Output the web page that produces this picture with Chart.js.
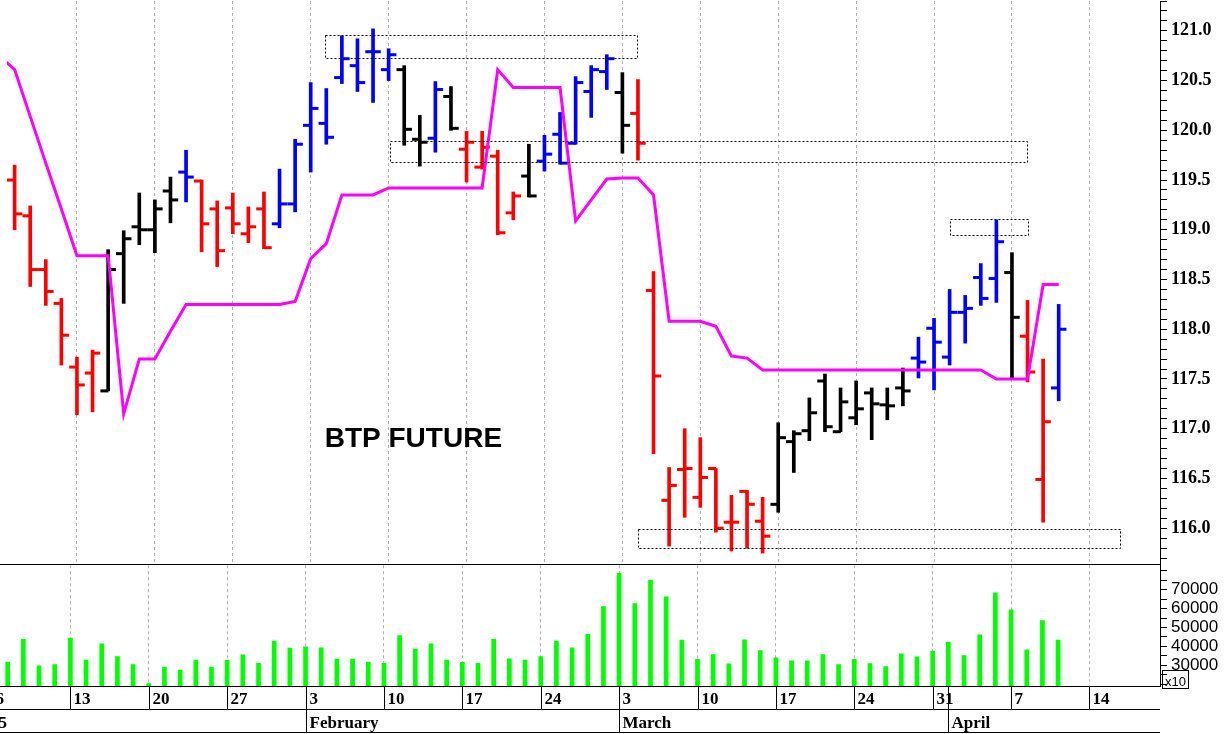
<!DOCTYPE html>
<html><head><meta charset="utf-8">
<script src="https://cdn.jsdelivr.net/npm/chart.js@4/dist/chart.umd.min.js"></script>
<style>
body{margin:0;background:#fff;width:1231px;height:734px;overflow:hidden;position:relative}
#wp{position:absolute;left:0;top:-6px;width:1231px;height:577px}
#wv{position:absolute;left:0;top:551px;width:1231px;height:182px}
</style></head><body>
<div id="wv"><canvas id="vol"></canvas></div>
<div id="wp"><canvas id="price"></canvas></div>
<script>
// trading days from Jan 6 (index 0) to Apr 10 (index 68)
var opens  = [119.79,119.50,119.14,118.60,118.26,117.62,117.56,117.38,118.76,119.03,119.00,119.39,119.58,119.49,119.21,119.22,118.96,119.21,119.06,119.26,
              120.05,120.07,120.53,120.65,120.79,120.61,120.61,119.91,119.92,120.34,119.81,119.63,119.74,119.17,119.54,119.69,119.96,119.87,120.39,120.59,
              120.38,120.17,118.39,116.28,116.59,116.31,116.60,116.06,116.37,116.07,116.24,116.87,116.98,117.48,116.97,117.11,117.36,117.24,117.41,117.71,
              118.01,117.72,118.17,118.52,118.51,118.57,117.93,116.49,117.41];
var highs  = [119.89,119.65,119.24,118.70,118.31,117.72,117.79,118.80,118.99,119.37,119.30,119.53,119.80,119.50,119.29,119.37,119.23,119.38,119.61,119.91,
              120.48,120.42,120.95,120.92,121.02,120.82,120.65,120.15,120.49,120.44,119.99,119.99,119.80,119.38,119.86,119.95,120.18,120.54,120.65,120.76,
              120.58,120.51,118.58,116.61,117.00,116.91,116.60,116.33,116.38,116.31,117.06,116.98,117.31,117.55,117.41,117.48,117.41,117.41,117.61,117.92,
              118.11,118.40,118.34,118.66,119.10,118.77,118.29,117.70,118.25];
var lows   = [119.29,119.00,118.43,118.24,117.64,117.14,117.17,117.38,118.26,118.85,118.77,119.07,119.28,118.78,118.63,118.96,118.87,118.81,119.02,119.18,
              119.58,119.86,120.47,120.39,120.28,120.50,119.85,119.64,119.78,120.00,119.48,119.61,118.95,119.10,119.33,119.59,119.66,119.86,120.13,120.41,
              119.77,119.70,116.75,115.82,116.11,116.21,115.96,115.77,115.80,115.75,116.16,116.56,116.88,116.97,116.97,117.04,116.89,117.09,117.23,117.51,
              117.39,117.64,117.86,118.24,118.27,117.50,117.47,116.06,117.28];
var closes = [119.61,119.16,118.60,118.38,117.94,117.44,117.76,118.60,118.91,119.00,119.21,119.30,119.53,119.06,118.79,119.06,119.03,118.82,119.26,119.86,
              120.22,119.93,120.72,120.48,120.79,120.76,120.01,119.88,120.41,120.02,119.88,119.83,118.97,119.34,119.34,119.76,119.67,120.48,120.61,120.72,
              120.05,119.87,117.53,116.43,116.60,116.51,116.00,116.06,116.24,115.92,116.91,116.95,117.16,117.02,117.27,117.20,117.25,117.23,117.38,117.67,
              117.87,118.17,118.21,118.31,118.88,118.12,117.57,117.07,118.00];
// bar colour code: r red, k black, b blue
var barColors = "rrrrrrrkkkkkbrrrrrbbbbbbbbkkbkrrrrkbbbbbkrrrrrrrrrkkkkkkkkkbbbbbbkrrb";
var stopLine = [120.75,120.61,120.14,119.67,119.21,118.74,118.74,118.74,117.15,117.70,117.70,117.98,118.25,118.25,118.25,118.25,118.25,118.25,118.25,118.28,
                118.71,118.86,119.35,119.35,119.35,119.42,119.42,119.42,119.42,119.42,119.42,119.42,120.61,120.43,120.43,120.43,120.43,119.09,119.30,119.51,
                119.52,119.52,119.35,118.08,118.08,118.08,118.03,117.73,117.71,117.59,117.59,117.59,117.59,117.59,117.59,117.59,117.59,117.59,117.59,117.59,
                117.59,117.59,117.59,117.59,117.50,117.50,117.50,118.45,118.45];
var volumes = [30000,31700,43700,29700,30400,44400,32700,41300,34600,30400,20300,29000,27400,32700,29000,32600,35500,31000,42800,39100,
               39700,39200,33200,33200,31700,31000,45700,38600,41300,32700,31500,31000,43700,33400,32700,34600,42800,39200,46400,61100,
               78700,62700,75000,66300,43300,33100,35600,30700,43500,37800,33900,32400,32400,35600,30400,33100,30900,29300,36000,34500,
               37500,42300,35100,46100,68300,59400,38200,53600,43300];
// dotted boxes: start day, end day, low, high
var boxStart = [20.9, 25.1, 61.0, 41.0];
var boxEnd   = [40.9, 66.0, 66.0, 71.9];
var boxLow   = [120.73, 119.68, 118.95, 115.80];
var boxHigh  = [120.96, 119.89, 119.11, 115.99];
// axis labels
var weekIdx    = [0,5,10,15,20,25,30,35,40,45,50,55,60,65,70];
var weekLabels = ["6","13","20","27","3","10","17","24","3","10","17","24","31","7","14"];
var monthIdx    = [-0.4,20,40,61];
var monthLabels = ["2025","February","March","April"];

var XMIN = 0.51, XMAX = 74.5;
var colMap = {r:"#ff0000", k:"#000000", b:"#0000ff"};
var cols = barColors.split("").map(function (c) { return colMap[c]; });
Chart.defaults.animation = false;

function xGrid() {
  return {
    type: "linear", min: XMIN, max: XMAX, offset: false,
    afterBuildTicks: function (s) { s.ticks = weekIdx.map(function (v) { return {value: v}; }); },
    ticks: {display: false},
    grid: {color: "#b0b0b0", drawTicks: false, lineWidth: 1, offset: false},
    border: {display: false, dash: [3, 3]}
  };
}

var hl = [], op = [], cl = [], vol = [], line = [];
for (var i = 0; i < opens.length; i++) {
  hl.push({x: i, y: [lows[i], highs[i]]});
  op.push({x: i - 0.24, y: opens[i]});
  cl.push({x: i + 0.24, y: closes[i]});
  vol.push({x: i, y: volumes[i]});
  line.push({x: i, y: stopLine[i]});
}

var pricePlugin = {
  id: "priceExtras",
  afterDatasetsDraw: function (chart) {
    var c = chart.ctx, xs = chart.scales.x, ys = chart.scales.y;
    c.save();
    c.strokeStyle = "#000"; c.lineWidth = 1; c.setLineDash([2, 2]);
    for (var k = 0; k < boxStart.length; k++) {
      var x1 = xs.getPixelForValue(boxStart[k]), x2 = xs.getPixelForValue(boxEnd[k]);
      var y1 = ys.getPixelForValue(boxHigh[k]), y2 = ys.getPixelForValue(boxLow[k]);
      c.strokeRect(Math.round(x1) + 0.5, Math.round(y1) + 0.5, Math.round(x2 - x1), Math.round(y2 - y1));
    }
    c.setLineDash([]);
    c.fillStyle = "#000"; c.font = "bold 28px 'Liberation Sans', Arial";
    c.textBaseline = "middle";
    c.fillText("BTP FUTURE", xs.getPixelForValue(20.9), ys.getPixelForValue(116.89));
    c.beginPath(); c.moveTo(0, chart.chartArea.bottom + 0.5); c.lineTo(chart.chartArea.right, chart.chartArea.bottom + 0.5); c.stroke();
    c.restore();
  }
};

new Chart(document.getElementById("price"), {
  type: "bar",
  data: {datasets: [
    {type: "line", data: line, borderColor: "#ff00ff", borderWidth: 3, pointRadius: 0, tension: 0, order: 0},
    {data: hl, backgroundColor: cols, barThickness: 3, order: 1},
    {type: "line", data: op, showLine: false, pointStyle: "line", radius: 4, borderWidth: 3, borderColor: cols, order: 1},
    {type: "line", data: cl, showLine: false, pointStyle: "line", radius: 4, borderWidth: 3, borderColor: cols, order: 1}
  ]},
  options: {
    responsive: true, maintainAspectRatio: false,
    layout: {padding: {top: -11, left: 0, right: 0, bottom: 0}},
    plugins: {legend: {display: false}, tooltip: {enabled: false}},
    scales: {
      x: xGrid(),
      y: {
        position: "right", min: 115.64, max: 121.30,
        afterFit: function (s) { s.width = 71; s.paddingTop = 0; s.paddingBottom = 0; },
        afterBuildTicks: function (s) {
          var t = [];
          for (var v = 1157; v <= 1213; v++) t.push({value: v / 10});
          s.ticks = t;
        },
        ticks: {
          autoSkip: false,
          color: "#000", font: {family: "'Liberation Serif', serif", size: 18, weight: "bold"}, padding: 4,
          callback: function (v) { return Math.round(v * 10) % 5 === 0 ? v.toFixed(1) : ""; }
        },
        grid: {drawOnChartArea: false, tickLength: 7, color: "#000"},
        border: {display: true, color: "#000", width: 1}
      }
    }
  },
  plugins: [pricePlugin]
});

var volPlugin = {
  id: "volExtras",
  afterDraw: function (chart) {
    var c = chart.ctx, xs = chart.scales.x, a = chart.chartArea;
    var b = a.bottom, r = a.right;
    c.save();
    c.strokeStyle = "#000"; c.lineWidth = 1; c.fillStyle = "#000";
    c.beginPath();
    c.moveTo(0, b + 0.5); c.lineTo(r, b + 0.5);
    c.moveTo(0, b + 23.5); c.lineTo(r, b + 23.5);
    c.moveTo(0, b + 46.5); c.lineTo(r, b + 46.5);
    c.stroke();
    c.font = "bold 17px 'Liberation Serif', serif"; c.textBaseline = "alphabetic";
    for (var k = 0; k < weekIdx.length; k++) {
      var x = Math.round(xs.getPixelForValue(weekIdx[k])) + 0.5;
      c.beginPath(); c.moveTo(x, b); c.lineTo(x, b + 23); c.stroke();
      c.fillText(weekLabels[k], x + 3, b + 18);
    }
    for (k = 0; k < monthIdx.length; k++) {
      var mx = Math.round(xs.getPixelForValue(monthIdx[k])) + 0.5;
      c.beginPath(); c.moveTo(mx, b); c.lineTo(mx, b + 47); c.stroke();
      if (k === 0) { c.textAlign = "right"; c.fillText(monthLabels[k], 7, b + 42); c.textAlign = "left"; }
      else c.fillText(monthLabels[k], mx + 3, b + 42);
    }
    c.strokeRect(r + 2.5, b - 15.5, 26, 18);
    c.font = "13px 'Liberation Sans', Arial";
    c.fillText("x10", r + 5, b);
    c.restore();
  }
};

new Chart(document.getElementById("vol"), {
  type: "bar",
  data: {datasets: [{data: vol, backgroundColor: "#00ff00", barThickness: 4}]},
  options: {
    responsive: true, maintainAspectRatio: false,
    layout: {padding: {top: -9, bottom: 47, left: 0, right: 0}},
    plugins: {legend: {display: false}, tooltip: {enabled: false}},
    scales: {
      x: xGrid(),
      y: {
        position: "right", min: 19000, max: 83000,
        afterFit: function (s) { s.width = 71; },
        afterBuildTicks: function (s) {
          var t = [];
          for (var v = 20000; v <= 80000; v += 5000) t.push({value: v});
          s.ticks = t;
        },
        ticks: {
          autoSkip: false,
          color: "#000", font: {family: "'Liberation Sans', Arial", size: 17}, padding: 4,
          callback: function (v) { return (v % 10000 === 0 && v >= 30000 && v <= 70000) ? String(v) : ""; }
        },
        grid: {drawOnChartArea: false, tickLength: 7, color: "#000"},
        border: {display: true, color: "#000", width: 1}
      }
    }
  },
  plugins: [volPlugin]
});
</script>
</body></html>
